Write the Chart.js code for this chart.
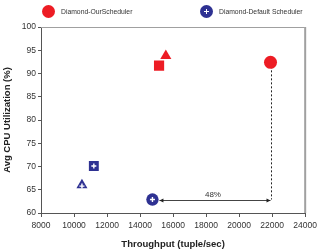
<!DOCTYPE html>
<html>
<head>
    <title>Throughput vs CPU</title>
    <script src="https://cdn.jsdelivr.net/npm/chart.js"></script>
    <style>
        body {
            margin: 0;
            background-color: #ffffff;
            font-family: "Liberation Sans", Arial, sans-serif;
        }

        .wrap {
            position: relative;
            width: 321px;
            height: 250px;
        }

        .legend-item {
            position: absolute;
            top: 5px;
            font-size: 6.8px;
            color: #333333;
            display: flex;
            align-items: center;
        }

        .dot {
            width: 13px;
            height: 13px;
            border-radius: 50%;
            margin-right: 6px;
            position: relative;
        }

        .dot.plus::before, .dot.plus::after {
            content: "";
            position: absolute;
            background: #ffffff;
        }

        .dot.plus::before { left: 4px; top: 6px; width: 5px; height: 1.4px; }
        .dot.plus::after { left: 5.8px; top: 4.2px; width: 1.4px; height: 5px; }
    </style>
</head>
<body>
    <div class="wrap">
        <canvas id="chart" width="321" height="250"></canvas>
        <div class="legend-item" style="left:42px"><span class="dot" style="background:#ed1c24"></span>Diamond-OurScheduler</div>
        <div class="legend-item" style="left:200px"><span class="dot plus" style="background:#2e3192"></span>Diamond-Default Scheduler</div>
    </div>

    <script>
        // values
        var ourX = [21900, 15560, 15150];
        var ourY = [92.4, 93.8, 91.7];
        var defaultX = [14750, 10480, 11200];
        var defaultY = [62.9, 66.0, 70.1];
        var markerStyles = ['circle', 'triangle', 'rect'];
        var markerSizes = [6.5, 6.4, 7.2];
        var xTicks = [8000, 10000, 12000, 14000, 16000, 18000, 20000, 22000, 24000];
        var yTicks = [60, 65, 70, 75, 80, 85, 90, 95, 100];

        // the 48% gap annotation
        var gapFrom = [14750, 62.9];
        var gapTo = [21900, 62.9];
        var gapLabel = '48%';

        var red = '#ed1c24';
        var navy = '#2e3192';

        function toPoints(xs, ys) {
            var pts = [];
            for (var i = 0; i < xs.length; i++) {
                pts.push({ x: xs[i], y: ys[i] });
            }
            return pts;
        }

        var overlayPlugin = {
            id: 'overlay',
            beforeDatasetsDraw: function(chart) {
                var ctx = chart.ctx;
                var xs = chart.scales.x, ys = chart.scales.y;
                var area = chart.chartArea;

                // grey frame top/right
                ctx.save();
                ctx.strokeStyle = '#a0a0a0';
                ctx.lineWidth = 1;
                ctx.beginPath();
                ctx.moveTo(area.left, area.top + 0.5);
                ctx.lineTo(area.right - 0.5, area.top + 0.5);
                ctx.stroke();
                ctx.lineWidth = 2;
                ctx.beginPath();
                ctx.moveTo(area.right, area.top);
                ctx.lineTo(area.right, area.bottom);
                ctx.stroke();

                // dashed drop line
                var x1 = xs.getPixelForValue(gapTo[0]);
                var yTop = ys.getPixelForValue(ourY[0]);
                var yArrow = ys.getPixelForValue(gapTo[1]);
                ctx.strokeStyle = '#222222';
                ctx.lineWidth = 1;
                ctx.setLineDash([2, 2]);
                ctx.beginPath();
                ctx.moveTo(Math.round(x1) + 0.5, yTop);
                ctx.lineTo(Math.round(x1) + 0.5, yArrow);
                ctx.stroke();
                ctx.setLineDash([]);

                // double arrow
                var x0 = xs.getPixelForValue(gapFrom[0]) + 7;
                var ya = Math.round(yArrow) + 0.5;
                ctx.strokeStyle = '#444444';
                ctx.beginPath();
                ctx.moveTo(x0, ya);
                ctx.lineTo(x1, ya);
                ctx.stroke();
                ctx.fillStyle = '#222222';
                ctx.beginPath();
                ctx.moveTo(x0, ya);
                ctx.lineTo(x0 + 4, ya - 2);
                ctx.lineTo(x0 + 4, ya + 2);
                ctx.fill();
                ctx.beginPath();
                ctx.moveTo(x1, ya);
                ctx.lineTo(x1 - 4, ya - 2);
                ctx.lineTo(x1 - 4, ya + 2);
                ctx.fill();

                ctx.fillStyle = '#333333';
                ctx.font = '8px "Liberation Sans", Arial, sans-serif';
                ctx.textAlign = 'center';
                ctx.textBaseline = 'bottom';
                ctx.fillText(gapLabel, (x0 + x1) / 2 - 2, ya - 2);
                ctx.restore();
            },
            afterDatasetsDraw: function(chart) {
                // white plus on the default scheduler markers
                var ctx = chart.ctx;
                var meta = chart.getDatasetMeta(1);
                ctx.save();
                ctx.strokeStyle = '#ffffff';
                ctx.lineWidth = 1.4;
                meta.data.forEach(function(pt, i) {
                    var cy = pt.y + (markerStyles[i] === 'triangle' ? 1 : 0);
                    ctx.beginPath();
                    ctx.moveTo(pt.x - 2.5, cy);
                    ctx.lineTo(pt.x + 2.5, cy);
                    ctx.moveTo(pt.x, cy - 2.5);
                    ctx.lineTo(pt.x, cy + 2.5);
                    ctx.stroke();
                });
                ctx.restore();
            }
        };

        var tickFont = { family: '"Liberation Sans", Arial, sans-serif', size: 8.5 };
        var titleFont = { family: '"Liberation Sans", Arial, sans-serif', size: 9.5, weight: 'bold' };
        var plainLabel = function(value) { return String(value); };

        var ctx = document.getElementById('chart').getContext('2d');
        var chart = new Chart(ctx, {
            type: 'scatter',
            data: {
                datasets: [{
                    label: 'Diamond-OurScheduler',
                    data: toPoints(ourX, ourY),
                    backgroundColor: red,
                    borderColor: red,
                    borderWidth: 0,
                    pointStyle: markerStyles,
                    pointRadius: markerSizes
                }, {
                    label: 'Diamond-Default Scheduler',
                    data: toPoints(defaultX, defaultY),
                    backgroundColor: navy,
                    borderColor: navy,
                    borderWidth: 0,
                    pointStyle: markerStyles,
                    pointRadius: [6.2, 6.4, 7]
                }]
            },
            options: {
                responsive: false,
                animation: false,
                layout: { padding: { top: 27, right: 13, left: 0, bottom: 0 } },
                plugins: {
                    legend: { display: false },
                    tooltip: { enabled: false }
                },
                scales: {
                    x: {
                        type: 'linear',
                        min: 8000,
                        max: 24000,
                        afterBuildTicks: function(scale) {
                            scale.ticks = xTicks.map(function(v) { return { value: v }; });
                        },
                        afterFit: function(scale) { scale.height = 37; },
                        grid: { drawOnChartArea: false, drawTicks: true, tickLength: 4, color: '#555555' },
                        border: { color: '#555555' },
                        ticks: { font: tickFont, color: '#333333', padding: 4, maxRotation: 0, callback: plainLabel },
                        title: { display: true, text: 'Throughput (tuple/sec)', font: titleFont, color: '#222222', padding: { top: 4, bottom: 0 } }
                    },
                    y: {
                        type: 'linear',
                        min: 60,
                        max: 100,
                        afterBuildTicks: function(scale) {
                            scale.ticks = yTicks.map(function(v) { return { value: v }; });
                        },
                        afterFit: function(scale) { scale.width = 41; },
                        grid: { drawOnChartArea: false, drawTicks: true, tickLength: 3, color: '#555555' },
                        border: { color: '#555555' },
                        ticks: { font: tickFont, color: '#333333', padding: 2, callback: plainLabel },
                        title: { display: true, text: 'Avg CPU Utilization (%)', font: titleFont, color: '#222222', padding: { top: 2, bottom: 2 } }
                    }
                }
            },
            plugins: [overlayPlugin]
        });
    </script>
</body>
</html>
